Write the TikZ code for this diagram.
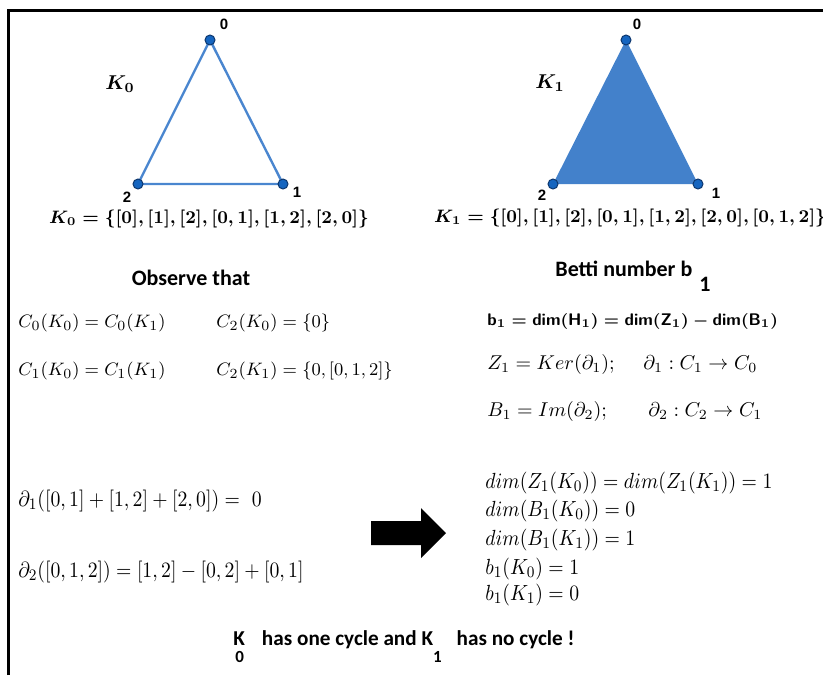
\documentclass[tikz,border=0pt]{standalone}
\usepackage{amsmath,amssymb}
\usepackage{graphicx}
\usepackage{fontspec}
\newfontfamily\calib{Carlito}
\newfontfamily\arialb{Liberation Sans}
\usetikzlibrary{positioning}

\definecolor{edgeblue}{RGB}{74,134,207}
\definecolor{faceblue}{RGB}{67,129,203}
\definecolor{dotblue}{RGB}{21,101,192}
\definecolor{dotline}{RGB}{13,55,110}

\newcommand{\kzero}{\ensuremath{\boldsymbol{K_0=\{[0],[1],[2],[0,1],[1,2],[2,0]\}}}}
\newcommand{\kone}{\ensuremath{\boldsymbol{K_1=\{[0],[1],[2],[0,1],[1,2],[2,0],[0,1,2]\}}}}
\newcommand{\narrow}[1]{\scalebox{0.9}[1]{#1}}
\newcommand{\lowidx}[1]{\raisebox{-8.5pt}{\fontsize{8.5}{9}\selectfont #1}}

\begin{document}
\begin{tikzpicture}[x=0.5pt, y=-0.5pt,
    vtx/.style={circle, fill=dotblue, draw=dotline, line width=0.5pt, minimum size=5pt, inner sep=0pt},
    numlbl/.style={font=\arialb\bfseries\fontsize{7.5}{9}\selectfont, inner sep=0pt},
    side/.style={edgeblue, line width=1.2pt},
    eqn/.style={anchor=west, inner sep=0pt},
    headtxt/.style={font=\calib\bfseries\fontsize{11}{13}\selectfont, inner sep=0pt}]
    \useasboundingbox (0,0) rectangle (823,675);

    % frame
    \draw[line width=1.7pt] (8.5,675) -- (8.5,10.5) -- (823,10.5);

    % complex K0 : only the edges
    \coordinate (a0) at (210,40);
    \coordinate (a1) at (283,184);
    \coordinate (a2) at (138,184);
    \draw[side] (a0) -- (a1) -- (a2) -- cycle;
    \node[vtx] (d0) at (a0) {};
    \node[vtx] (d1) at (a1) {};
    \node[vtx] (d2) at (a2) {};
    \node[numlbl] (n0) at (224,24) {0};
    \node[numlbl] (n1) at (297,192) {1};
    \node[numlbl] (n2) at (127,197) {2};
    \node (k0) at (120,84) {$\boldsymbol{K_0}$};
    \node[font=\fontsize{8.7}{11}\selectfont] (k0set) at (209,219) {\kzero};

    % complex K1 : filled face
    \coordinate (b0) at (626,40);
    \coordinate (b1) at (698,184);
    \coordinate (b2) at (553,184);
    \fill[faceblue] (b0) -- (b1) -- (b2) -- cycle;
    \node[vtx] (e0) at (b0) {};
    \node[vtx] (e1) at (b1) {};
    \node[vtx] (e2) at (b2) {};
    \node[numlbl] (m0) at (637,24) {0};
    \node[numlbl] (m1) at (716,193) {1};
    \node[numlbl] (m2) at (542,195) {2};
    \node (k1) at (550,83) {$\boldsymbol{K_1}$};
    \node[font=\fontsize{8.75}{11}\selectfont] (k1set) at (630,218) {\kone};

    % chain groups
    \node[headtxt] (obs) at (191,278) {Observe that};
    \node[eqn, font=\fontsize{9.5}{11}\selectfont] (c0) at (18,323) {$C_0(K_0)=C_0(K_1)$};
    \node[eqn, font=\fontsize{9.5}{11}\selectfont] (c1) at (18,371) {$C_1(K_0)=C_1(K_1)$};
    \node[eqn, font=\fontsize{9.5}{11}\selectfont] (c2a) at (216,323) {$C_2(K_0)=\{0\}$};
    \node[eqn, font=\fontsize{9.5}{11}\selectfont] (c2b) at (216,371) {$C_2(K_1)=\{0,[0,1,2]\}$};

    % Betti number
    \node[headtxt, anchor=west] (betti) at (555,276) {Betti number b\hspace{3.5pt}\raisebox{-7.5pt}{1}};
    \node[eqn, font=\fontsize{8.4}{10}\selectfont] (bdef) at (487,321) {$\boldsymbol{\mathsf{b}_1=\mathsf{dim}(\mathsf{H}_1)=\mathsf{dim}(\mathsf{Z}_1)-\mathsf{dim}(\mathsf{B}_1)}$};
    \node[eqn] (zdef) at (487,364) {$Z_1=Ker(\partial_1);$};
    \node[eqn] (zmap) at (643,364) {$\partial_1:C_1\rightarrow C_0$};
    \node[eqn] (bdf) at (487,411) {$B_1=Im(\partial_2);$};
    \node[eqn] (bmap) at (648,411) {$\partial_2:C_2\rightarrow C_1$};

    % boundaries
    \node[eqn, font=\fontsize{11}{13}\selectfont] (bd1) at (18,501) {\narrow{$\partial_1([0,1]+[1,2]+[2,0]) =\ 0$}};
    \node[eqn, font=\fontsize{11}{13}\selectfont] (bd2) at (18,572) {\narrow{$\partial_2([0,1,2])=[1,2]-[0,2]+[0,1]$}};

    % arrow
    \fill (371,521) -- (421,521) -- (421,508) -- (446,533) -- (421,558) -- (421,545) -- (371,545) -- cycle;

    % results
    \node[eqn, font=\fontsize{11}{13}\selectfont] (r1) at (485,483) {\narrow{$dim(Z_1(K_0))=dim(Z_1(K_1))=1$}};
    \node[eqn, font=\fontsize{11}{13}\selectfont] (r2) at (485,511) {\narrow{$dim(B_1(K_0))=0$}};
    \node[eqn, font=\fontsize{11}{13}\selectfont] (r3) at (485,540) {\narrow{$dim(B_1(K_1))=1$}};
    \node[eqn, font=\fontsize{11}{13}\selectfont] (r4) at (485,569) {\narrow{$b_1(K_0)=1$}};
    \node[eqn, font=\fontsize{11}{13}\selectfont] (r5) at (485,595) {\narrow{$b_1(K_1)=0$}};

    % conclusion
    \node[font=\calib\bfseries\fontsize{10.6}{12}\selectfont, anchor=base west, inner sep=0pt] (cyc) at (233,645)
        {K\makebox[0pt][r]{\lowidx{0}\hspace{0.5pt}}\hspace{8.5pt}has one cycle and K\lowidx{1}\hspace{7.5pt}has no cycle !};
\end{tikzpicture}
\end{document}
